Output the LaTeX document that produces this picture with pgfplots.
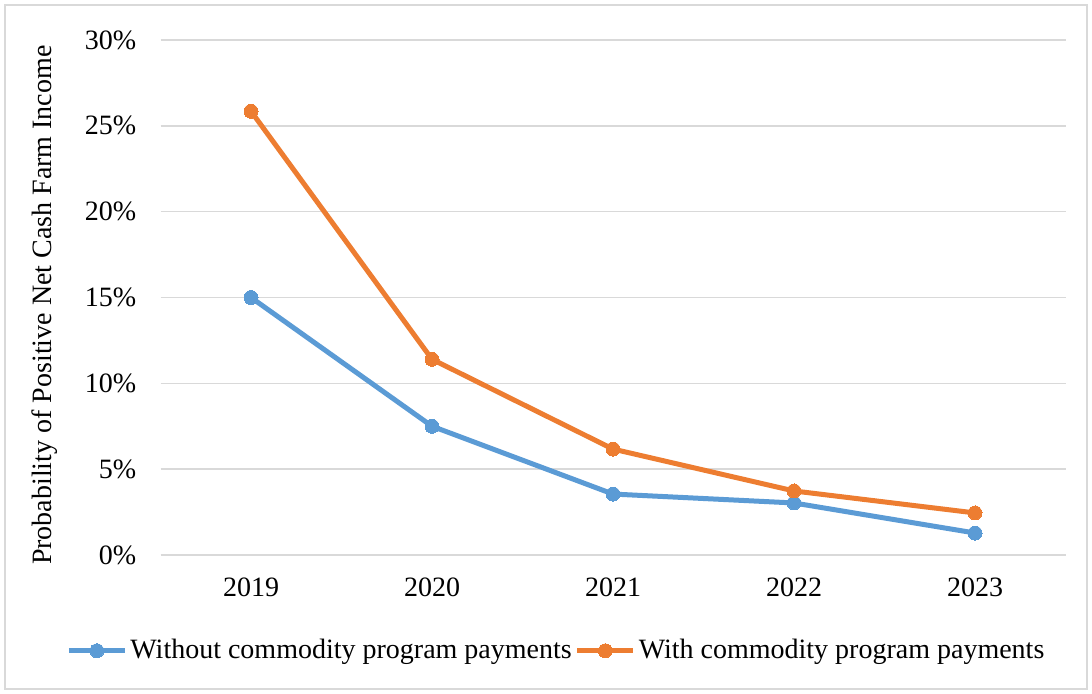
\documentclass[border=0pt]{standalone}
\usepackage{pgfplots}
\pgfplotsset{compat=1.18}
\usepackage{fontspec}
\setmainfont{Liberation Serif}
\definecolor{blueS}{HTML}{5B9BD5}
\definecolor{orangeS}{HTML}{ED7D31}
\definecolor{gridG}{HTML}{D9D9D9}

\begin{document}
\fontsize{14pt}{16pt}\selectfont
\begin{tikzpicture}
% page frame: 1092x694 px at 0.5pt per px
\path[use as bounding box] (0,0) rectangle (546pt,347pt);
\draw[gridG, line width=0.75pt] (2.5pt,2.5pt) rectangle (543.5pt,344.5pt);
\begin{axis}[
    at={(80.25pt,69.5pt)}, anchor=south west,
    scale only axis,
    width=452.5pt, height=257.5pt,
    xmin=-0.5, xmax=4.5,
    ymin=0, ymax=30,
    xtick={0,1,2,3,4},
    xticklabels={2019,2020,2021,2022,2023},
    ytick={0,5,10,15,20,25,30},
    yticklabel={\pgfmathprintnumber{\tick}\%},
    /pgf/number format/assume math mode=true,
    axis line style={draw=none},
    major tick length=0pt,
    ymajorgrids,
    grid style={gridG, line width=0.75pt},
    yticklabel style={inner sep=0pt, xshift=-12pt, font=\fontsize{14pt}{16pt}\selectfont},
    xticklabel style={inner sep=0pt, yshift=-11pt, font=\fontsize{14pt}{16pt}\selectfont},
    ylabel={Probability of Positive Net Cash Farm Income},
    ylabel style={at={(axis description cs:-0.1276,0.485)}, anchor=center, font=\fontsize{14pt}{16pt}\selectfont},
    legend columns=2,
    legend style={at={(axis description cs:0.438,-0.186)}, anchor=center, draw=none, fill=none,
        font=\fontsize{14pt}{16pt}\selectfont, inner sep=0pt,
        nodes={inner xsep=1.5pt},
        /tikz/every even column/.append style={column sep=0pt}},
    legend cell align=left,
    legend image code/.code={\draw[#1, mark repeat=2, mark phase=2] plot coordinates {(0pt,0pt) (14pt,0pt) (28pt,0pt)};},
    every axis plot/.append style={line width=2.5pt, mark=*, mark size=3.5pt},
]
\addplot[color=blueS, mark options={fill=blueS, draw=blueS, line width=0pt}] coordinates {
    (0,15.0) (1,7.5) (2,3.55) (3,3.03) (4,1.28)
};
\addlegendentry{Without commodity program payments}
\addplot[color=orangeS, mark options={fill=orangeS, draw=orangeS, line width=0pt}] coordinates {
    (0,25.85) (1,11.4) (2,6.17) (3,3.73) (4,2.45)
};
\addlegendentry{With commodity program payments}
\end{axis}
\end{tikzpicture}
\end{document}
